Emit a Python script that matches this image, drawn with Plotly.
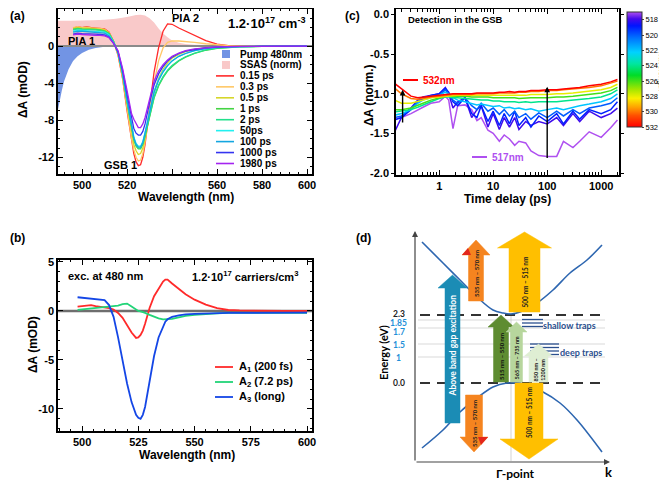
import math
import plotly.graph_objects as go
from plotly.colors import sample_colorscale

# the page body adds an 8px margin, so the figure is drawn 8px smaller and every
# reference pixel position is shifted by that offset
OFF = 8
FW, FH = 667 - OFF, 482 - OFF
FONT = "Liberation Sans"


def fx(px):
    return min(1.0, max(0.0, (px - OFF) / FW))


def fy(py):
    return min(1.0, max(0.0, 1 - (py - OFF) / FH))


# ---------------- (a) transient spectra ----------------
wl_a = [496, 498, 500, 502, 504, 506, 508, 510, 512, 514, 516, 518, 520, 522, 523, 524, 525, 526,
        527, 528, 530, 532, 534, 536, 538, 540, 543, 546, 550, 555, 560, 565, 570, 580, 590, 600]
spec_015 = [1.9, 2.1, 2.0, 2.1, 2.0, 1.95, 1.9, 1.85, 1.5, 0.5, -1.0, -3.5, -7.0, -10.3, -11.6, -12.5, -12.9, -12.8,
            -12.0, -10.6, -6.5, -2.8, -0.2, 1.6, 2.4, 2.35, 1.95, 1.6, 1.15, 0.6, 0.2, 0.05, 0.02, 0.0, 0.0, 0.0]
spec_03 = [2.0, 2.1, 2.0, 2.05, 1.95, 1.95, 1.9, 1.8, 1.45, 0.5, -0.9, -3.4, -6.8, -10.0, -11.2, -12.0, -12.4, -12.3,
           -11.6, -10.3, -7.0, -4.0, -1.6, -0.2, 0.4, 0.55, 0.55, 0.5, 0.4, 0.25, 0.12, 0.05, 0.02, 0.0, 0.0, 0.0]
spec_05 = [1.9, 2.0, 1.95, 1.95, 1.9, 1.85, 1.8, 1.75, 1.4, 0.5, -0.8, -3.2, -6.4, -9.5, -10.6, -11.3, -11.7, -11.6,
           -11.0, -10.0, -7.3, -5.0, -3.5, -2.5, -1.8, -1.3, -0.9, -0.6, -0.35, -0.18, -0.1, -0.06, -0.04, -0.02, -0.01, -0.01]
spec_1 = [1.8, 1.9, 1.85, 1.85, 1.8, 1.8, 1.75, 1.65, 1.35, 0.5, -0.7, -3.0, -6.0, -9.0, -10.1, -10.8, -11.1, -11.1,
          -10.6, -9.7, -7.5, -5.6, -4.3, -3.4, -2.7, -2.2, -1.6, -1.2, -0.8, -0.45, -0.25, -0.14, -0.08, -0.04, -0.03, -0.02]
spec_2 = [1.75, 1.85, 1.8, 1.8, 1.75, 1.75, 1.7, 1.6, 1.3, 0.45, -0.7, -3.0, -6.0, -8.9, -10.0, -10.7, -11.0, -11.0,
          -10.5, -9.6, -7.4, -5.5, -4.2, -3.3, -2.6, -2.1, -1.55, -1.15, -0.75, -0.42, -0.23, -0.13, -0.07, -0.04, -0.03, -0.02]
spec_50 = [1.6, 1.7, 1.7, 1.65, 1.6, 1.6, 1.55, 1.5, 1.2, 0.4, -0.7, -2.9, -5.8, -8.7, -9.8, -10.5, -10.8, -10.8,
           -10.3, -9.3, -6.9, -4.9, -3.6, -2.7, -2.1, -1.6, -1.1, -0.8, -0.5, -0.28, -0.15, -0.09, -0.05, -0.03, -0.02, -0.02]
spec_100 = [1.5, 1.6, 1.6, 1.55, 1.5, 1.5, 1.45, 1.4, 1.1, 0.35, -0.7, -2.9, -5.8, -8.8, -9.9, -10.6, -10.9, -10.9,
            -10.4, -9.4, -7.0, -5.0, -3.7, -2.8, -2.1, -1.6, -1.1, -0.8, -0.5, -0.28, -0.15, -0.09, -0.05, -0.03, -0.02, -0.02]
spec_1000 = [1.3, 1.4, 1.35, 1.35, 1.3, 1.3, 1.25, 1.2, 0.95, 0.3, -0.6, -2.6, -5.2, -7.9, -8.9, -9.4, -9.6, -9.6,
             -9.2, -8.4, -6.1, -4.2, -3.0, -2.2, -1.6, -1.2, -0.8, -0.55, -0.35, -0.18, -0.1, -0.06, -0.04, -0.02, -0.01, -0.01]
spec_1980 = [1.2, 1.3, 1.25, 1.2, 1.2, 1.15, 1.15, 1.1, 0.9, 0.3, -0.5, -2.4, -4.8, -7.3, -7.9, -8.3, -8.8, -8.8,
             -8.4, -7.7, -5.6, -3.8, -2.7, -2.0, -1.5, -1.1, -0.75, -0.5, -0.3, -0.15, -0.08, -0.05, -0.03, -0.02, -0.01, -0.01]
spectra_a = [spec_015, spec_03, spec_05, spec_1, spec_2, spec_50, spec_100, spec_1000, spec_1980]
labels_a = ["0.15 ps", "0.3 ps", "0.5 ps", "1 ps", "2 ps", "50ps", "100 ps", "1000 ps", "1980 ps"]
colors_a = ["#ff2a2a", "#ffc866", "#d6d62a", "#44d444", "#22e08c", "#22f0f0", "#14a6e0", "#3434f0", "#a424f0"]

wl_pump = [489, 490, 491, 492, 494, 496, 498, 500, 503, 506, 510, 514]
pump = [-7.2, -6.0, -4.8, -3.8, -2.5, -1.6, -1.1, -0.75, -0.4, -0.2, -0.07, 0.0]
wl_ssas = [489, 495, 500, 505, 510, 515, 518, 521, 524, 526, 528, 530, 532, 534, 536, 538, 540, 543, 546, 550, 560, 580, 602]
ssas = [2.73, 2.74, 2.75, 2.78, 2.85, 2.95, 3.05, 3.2, 3.35, 3.38, 3.3, 3.0, 2.55, 1.9, 1.35, 0.95, 0.6, 0.35, 0.22,
        0.15, 0.12, 0.1, 0.1]
yticks_a = [-12, -8, -4, 0, 4]
xticks_a = [500, 520, 540, 560, 580, 600]

# ---------------- (b) decay-associated spectra ----------------
wl_b = [498, 500, 502, 504, 506, 508, 510, 512, 514, 516, 518, 520, 522, 524, 525, 526, 527, 528,
        530, 532, 534, 536, 537, 538, 540, 543, 546, 550, 555, 560, 565, 570, 580, 590, 600]
das_a1 = [0.45, 0.5, 0.55, 0.6, 0.5, 0.45, 0.4, 0.3, 0.15, -0.2, -0.7, -1.4, -2.2, -2.75, -2.7, -2.45, -2.0, -1.3,
          0.3, 1.5, 2.3, 3.0, 3.2, 3.2, 2.8, 2.2, 1.7, 1.15, 0.65, 0.3, 0.1, 0.05, 0.0, 0.0, 0.0]
das_a2 = [0.1, 0.15, 0.2, 0.25, 0.3, 0.3, 0.35, 0.4, 0.45, 0.55, 0.7, 0.75, 0.45, 0.1, 0.0, -0.05, -0.1, -0.2,
          -0.4, -0.6, -0.75, -0.85, -0.85, -0.85, -0.8, -0.65, -0.5, -0.4, -0.3, -0.25, -0.2, -0.2, -0.2, -0.2, -0.2]
das_a3 = [1.4, 1.35, 1.35, 1.3, 1.25, 1.2, 1.1, 0.6, -0.6, -2.7, -5.0, -7.4, -9.3, -10.6, -10.9, -11.0, -10.6, -9.8,
          -7.2, -4.6, -2.7, -1.5, -1.1, -0.85, -0.6, -0.45, -0.35, -0.3, -0.25, -0.22, -0.2, -0.2, -0.18, -0.18, -0.18]
das_labels = ["A<sub>1</sub> (200 fs)", "A<sub>2</sub> (7.2 ps)", "A<sub>3</sub> (long)"]
das_colors = ["#ff2a2a", "#22d478", "#1446e6"]
yticks_b = [-10, -5, 0, 5]
xticks_b = [500, 525, 550, 575, 600]

# ---------------- (c) kinetics in the GSB ----------------
t_c = [0.15, 0.2, 0.3, 0.4, 0.5, 0.7, 1.0, 1.3, 1.5, 1.8, 2.2, 3, 4, 5, 6, 8, 10, 13, 16, 20, 25, 30, 40, 50,
       70, 100, 150, 200, 300, 400, 600, 1000, 1500, 2000]
kin_517 = [-1.32, -1.3, -1.25, -1.2, -1.17, -1.12, -1.1, -1.03, -1.08, -1.44, -1.15, -1.14, -1.2, -1.34, -1.3, -1.46,
           -1.5, -1.6, -1.52, -1.57, -1.65, -1.6, -1.62, -1.72, -1.78, -1.79, -1.79, -1.6, -1.68, -1.6, -1.48, -1.55,
           -1.43, -1.33]
kin_518 = [-1.48, -1.3, -1.18, -1.08, -1.04, -1.02, -1.0, -0.92, -1.0, -1.18, -1.1, -1.05, -1.3, -1.2, -1.15, -1.42,
           -1.25, -1.45, -1.3, -1.42, -1.3, -1.45, -1.35, -1.4, -1.35, -1.38, -1.3, -1.4, -1.25, -1.35, -1.22, -1.3,
           -1.25, -1.18]
kin_519 = [-1.33, -1.3, -1.2, -1.1, -1.06, -1.02, -1.0, -0.93, -0.98, -1.1, -1.15, -1.05, -1.25, -1.3, -1.15, -1.35,
           -1.22, -1.4, -1.25, -1.38, -1.22, -1.4, -1.3, -1.42, -1.28, -1.35, -1.25, -1.38, -1.22, -1.32, -1.2, -1.25,
           -1.2, -1.1]
kin_520 = [-1.3, -1.28, -1.18, -1.1, -1.05, -1.03, -1.02, -0.95, -1.0, -1.08, -1.12, -1.05, -1.15, -1.2, -1.12, -1.22,
           -1.18, -1.26, -1.2, -1.28, -1.22, -1.3, -1.25, -1.32, -1.24, -1.3, -1.22, -1.28, -1.2, -1.25, -1.18, -1.15,
           -1.12, -1.05]
kin_522 = [-1.27, -1.25, -1.2, -1.12, -1.08, -1.05, -1.02, -0.98, -1.0, -1.05, -1.08, -1.1, -1.12, -1.14, -1.13, -1.15,
           -1.16, -1.15, -1.18, -1.17, -1.19, -1.18, -1.2, -1.19, -1.22, -1.2, -1.18, -1.2, -1.17, -1.15, -1.13, -1.1,
           -1.06, -1.0]
kin_524 = [-1.23, -1.22, -1.2, -1.17, -1.14, -1.1, -1.06, -1.04, -1.04, -1.05, -1.05, -1.06, -1.07, -1.07, -1.08, -1.08,
           -1.09, -1.09, -1.1, -1.1, -1.1, -1.11, -1.1, -1.11, -1.1, -1.1, -1.1, -1.09, -1.08, -1.07, -1.06, -1.04,
           -1.0, -0.95]
kin_526 = [-1.2, -1.2, -1.18, -1.15, -1.12, -1.08, -1.05, -1.03, -1.03, -1.03, -1.03, -1.03, -1.04, -1.04, -1.04, -1.04,
           -1.05, -1.05, -1.05, -1.05, -1.05, -1.06, -1.05, -1.05, -1.05, -1.05, -1.04, -1.04, -1.03, -1.02, -1.01, -0.99,
           -0.96, -0.92]
kin_528 = [-1.08, -1.12, -1.12, -1.1, -1.08, -1.05, -1.04, -1.03, -1.03, -1.02, -1.02, -1.02, -1.02, -1.02, -1.02, -1.02,
           -1.02, -1.02, -1.02, -1.02, -1.02, -1.02, -1.02, -1.01, -1.01, -1.01, -1.0, -1.0, -0.99, -0.98, -0.97, -0.95,
           -0.92, -0.88]
kin_530 = [-0.93, -1.0, -1.06, -1.07, -1.06, -1.04, -1.03, -1.02, -1.02, -1.01, -1.01, -1.01, -1.01, -1.0, -1.0, -1.0,
           -1.0, -0.99, -0.99, -0.99, -0.99, -0.98, -0.98, -0.97, -0.97, -0.96, -0.96, -0.95, -0.94, -0.93, -0.92, -0.9,
           -0.87, -0.84]
kin_532 = [-0.87, -0.94, -1.03, -1.05, -1.04, -1.03, -1.02, -1.01, -1.01, -1.0, -1.0, -1.0, -1.0, -0.99, -0.99, -0.99,
           -0.99, -0.98, -0.98, -0.97, -0.98, -0.97, -0.97, -0.96, -0.96, -0.95, -0.95, -0.94, -0.93, -0.92, -0.9, -0.88,
           -0.85, -0.82]
kin_wl = [517, 518, 519, 520, 522, 524, 526, 528, 530, 532]
kin_all = [kin_517, kin_518, kin_519, kin_520, kin_522, kin_524, kin_526, kin_528, kin_530, kin_532]
cbar_ticks = [518, 520, 522, 524, 526, 528, 530, 532]
yticks_c = [-2.0, -1.5, -1.0, -0.5, 0.0]
WL_MIN, WL_MAX = 517, 532

# rainbow, 0 = 532 nm (bottom of bar), 1 = 517 nm (top)
rainbow = [[0.0, "rgb(255,0,0)"], [0.1, "rgb(255,80,0)"], [0.17, "rgb(255,160,0)"], [0.25, "rgb(250,240,0)"],
           [0.33, "rgb(160,230,0)"], [0.45, "rgb(0,220,40)"], [0.55, "rgb(0,230,160)"], [0.65, "rgb(0,210,255)"],
           [0.78, "rgb(0,110,255)"], [0.88, "rgb(0,20,255)"], [0.94, "rgb(70,10,235)"], [1.0, "rgb(175,80,240)"]]

# ---------------- (d) band diagram (schematic units) ----------------
cb_k = [422, 443, 460, 477, 493, 503, 511, 520, 537, 553, 570, 587, 602]
cb_e = [242, 263, 280, 297, 310, 313, 314, 312, 303, 290, 273, 260, 245]
vb_k = [422, 443, 460, 477, 493, 507, 511, 520, 543, 560, 577, 602]
vb_e = [448, 430, 412, 398, 387, 383, 383, 383, 392, 403, 420, 452]
level_labels = ["2.3", "1.85", "1.7", "1.5", "1", "0.0"]
level_pos = [314, 323, 332, 345, 358, 383]
level_colors = ["#222", "#1e90d8", "#1e90d8", "#1e90d8", "#1e90d8", "#222"]
# centre, body width, head width, tail, head base, tip, colour, label, label pos, size
arrows_d = [
    (452.5, 15, 29, 423, 288, 275, "#1b8cb5", "Above band gap excitation", 345, 8.5, "white"),
    (476, 15, 28, 301, 255, 240, "#f5841f", "535 nm – 570 nm", 273, 6, "#222"),
    (524.5, 31, 54, 312, 248, 232, "#ffbf00", "500 nm – 515 nm", 282, 6.5, "#222"),
    (501, 15, 26, 382, 327, 315, "#5e8c31", "515 nm – 550 nm", 356, 6, "#111"),
    (516.5, 12, 21, 382, 332, 322, "#b7d69d", "565 nm – 735 nm", 358, 5.5, "#222"),
    (538.5, 19, 28, 382, 356, 344, "#dfeed3", "850 nm –<br>1200 nm", 370, 5.5, "#222"),
    (474, 17, 28, 395, 437, 452, "#f5841f", "535 nm – 570 nm", 423, 6, "#222"),
    (529, 28, 58, 383, 439, 459, "#ffbf00", "500 nm – 515 nm", 413, 6.5, "#222"),
]

fig = go.Figure()

# (a)
fig.add_trace(go.Scatter(x=wl_ssas, y=ssas, mode="none", fill="tozeroy", fillcolor="#f9c9c9",
                         xaxis="x", yaxis="y", showlegend=False))
fig.add_trace(go.Scatter(x=wl_pump, y=pump, mode="none", fill="tozeroy", fillcolor="#7294e4",
                         xaxis="x", yaxis="y", showlegend=False))
xr_a = [489.3, 602.2]
fig.add_trace(go.Scatter(x=xr_a, y=[0, 0], mode="lines", line=dict(color="#8a8a8a", width=2),
                         xaxis="x", yaxis="y", showlegend=False))
for vals, c in zip(spectra_a, colors_a):
    fig.add_trace(go.Scatter(x=wl_a, y=vals, mode="lines", line=dict(color=c, width=1.3),
                             xaxis="x", yaxis="y", showlegend=False))

# (b)
xr_b = [489.3, 602.2]
fig.add_trace(go.Scatter(x=xr_b, y=[0, 0], mode="lines", line=dict(color="#6e6e6e", width=2.5),
                         xaxis="x3", yaxis="y3", showlegend=False))
for vals, c in zip([das_a1, das_a2, das_a3], das_colors):
    fig.add_trace(go.Scatter(x=wl_b, y=vals, mode="lines", line=dict(color=c, width=1.8),
                             xaxis="x3", yaxis="y3", showlegend=False))

# (c)
for wl, vals in zip(kin_wl, kin_all):
    col = sample_colorscale(rainbow, [(WL_MAX - wl) / (WL_MAX - WL_MIN)])[0]
    fig.add_trace(go.Scatter(x=t_c, y=vals, mode="lines", line=dict(color=col, width=1.5),
                             xaxis="x2", yaxis="y2", showlegend=False))
fig.add_trace(go.Scatter(
    x=[1, 1], y=[-1, -1], mode="markers", xaxis="x2", yaxis="y2", showlegend=False, hoverinfo="skip",
    marker=dict(size=0.1, color=[-WL_MAX, -WL_MIN], colorscale=rainbow, cmin=-WL_MAX, cmax=-WL_MIN,
                showscale=True,
                colorbar=dict(x=fx(627), xanchor="left", xpad=0, ypad=0, y=fy(69.5), yanchor="middle",
                              len=115 / FH, lenmode="fraction", thickness=15, thicknessmode="pixels",
                              outlinewidth=1, outlinecolor="#333",
                              tickvals=[-v for v in cbar_ticks], ticktext=[str(v) for v in cbar_ticks],
                              ticks="outside", ticklen=2, tickfont=dict(size=7.5, family=FONT, weight="normal")))))

shapes = []
ann = []


def label(px, py, s, size=11, color="black", anchor="center", angle=0, weight="bold", family=FONT):
    ann.append(dict(x=fx(px), y=fy(py), xref="paper", yref="paper", text=s, showarrow=False,
                    xanchor=anchor, yanchor="middle", textangle=angle,
                    font=dict(size=size, color=color, family=family, weight=weight)))


label(661, 70, "wavelength", 8, angle=90, weight="normal")

# (d) bands
for kk, ee in [(cb_k, cb_e), (vb_k, vb_e)]:
    fig.add_trace(go.Scatter(x=kk, y=ee, mode="lines", line=dict(color="#2d66b0", width=1.6, shape="spline"),
                             xaxis="x4", yaxis="y4", showlegend=False))

# panel letters
label(8, 16, "(a)", 12, anchor="left")
label(352, 16, "(c)", 12)
label(8, 238, "(b)", 12, anchor="left")
label(363, 238, "(d)", 12)

# axis titles
label(23, 90, "ΔA (mOD)", 12, angle=-90)
label(186, 197, "Wavelength (nm)", 12)
label(33, 345, "ΔA (mOD)", 12, angle=-90)
label(187, 455, "Wavelength (nm)", 12)
label(369, 95, "ΔA (norm.)", 12, angle=-90)
label(507, 199, "Time delay (ps)", 12)

# (a) annotations
for s, x, y in [("PIA 1", 499.6, 0.55), ("PIA 2", 545.8, 3.0), ("GSB 1", 516.9, -12.8)]:
    ann.append(dict(x=x, y=y, xref="x", yref="y", text=s, showarrow=False,
                    font=dict(size=11, family=FONT, weight="bold")))
label(267, 23, "1.2·10<sup>17</sup> cm<sup>-3</sup>", 13)

# (a) legend
leg_rows = [54 + 10.95 * i for i in range(11)]
shapes.append(dict(type="rect", xref="paper", yref="paper", x0=fx(222), x1=fx(230), y0=fy(leg_rows[0] - 4),
                   y1=fy(leg_rows[0] + 4), fillcolor="#7294e4", line=dict(width=0)))
shapes.append(dict(type="rect", xref="paper", yref="paper", x0=fx(222), x1=fx(230), y0=fy(leg_rows[1] - 4),
                   y1=fy(leg_rows[1] + 4), fillcolor="#f9c9c9", line=dict(width=0)))
label(238, leg_rows[0], "Pump 480nm", 10, anchor="left")
label(238, leg_rows[1], "SSAS (norm)", 10, anchor="left")
for i, (s, c) in enumerate(zip(labels_a, colors_a)):
    yy = leg_rows[i + 2]
    shapes.append(dict(type="line", xref="paper", yref="paper", x0=fx(216), x1=fx(234), y0=fy(yy), y1=fy(yy),
                       line=dict(color=c, width=1.6)))
    label(238, yy, s, 10, anchor="left")

# (b) annotations + legend
label(105, 276, "exc. at 480 nm", 11)
label(245, 276, "1.2·10<sup>17</sup> carriers/cm<sup>3</sup>", 11)
for i, (s, c) in enumerate(zip(das_labels, das_colors)):
    yy = 367 + 15 * i
    shapes.append(dict(type="line", xref="paper", yref="paper", x0=fx(215), x1=fx(233), y0=fy(yy), y1=fy(yy),
                       line=dict(color=c, width=1.8)))
    label(237, yy, s, 11, anchor="left")

# (c) annotations
label(406, 19, "Detection in the GSB", 9.5, anchor="left")
kin_key = [("532nm", kin_wl[-1], 403, 80), ("517nm", kin_wl[0], 472, 157)]
for s, wl, x0, yy in kin_key:
    col = sample_colorscale(rainbow, [(WL_MAX - wl) / (WL_MAX - WL_MIN)])[0]
    shapes.append(dict(type="line", xref="paper", yref="paper", x0=fx(x0), x1=fx(x0 + 15), y0=fy(yy), y1=fy(yy),
                       line=dict(color=col, width=2)))
    label(x0 + 18, yy, s, 10, color=col, anchor="left")
for t_arrow, y_tail, y_head in [(0.21, -1.38, -0.95), (100, -1.83, -0.91)]:
    ann.append(dict(x=math.log10(t_arrow), y=y_head, ax=math.log10(t_arrow), ay=y_tail, xref="x2", yref="y2",
                    axref="x2", ayref="y2", text="", showarrow=True, arrowhead=2, arrowsize=0.8,
                    arrowwidth=1.4, arrowcolor="black"))

# (d) diagram
DF = "Lato"
for yy in [320, 328, 344, 357]:
    shapes.append(dict(type="line", xref="x4", yref="y4", x0=418, x1=605, y0=yy, y1=yy,
                       line=dict(color="#cfcfcf", width=0.8), layer="below"))
shapes.append(dict(type="line", xref="x4", yref="y4", x0=511, x1=511, y0=313, y1=461,
                   line=dict(color="#c8c8c8", width=0.8), layer="below"))
for yy in [315, 383]:
    shapes.append(dict(type="line", xref="x4", yref="y4", x0=420, x1=600, y0=yy, y1=yy,
                       line=dict(color="#333", width=1.8, dash="10px,7px"), layer="below"))
for yy in [319.5, 323, 326.5]:
    shapes.append(dict(type="line", xref="x4", yref="y4", x0=522, x1=543, y0=yy, y1=yy,
                       line=dict(color="#2b4f8e", width=1.3)))
for yy in [344, 347.5, 351, 354.5]:
    shapes.append(dict(type="line", xref="x4", yref="y4", x0=530, x1=559, y0=yy, y1=yy,
                       line=dict(color="#2b4f8e", width=1.3)))

for xc, bw, hw, yt, yb, ytip, col, s, ty, fs, tc in arrows_d:
    path = (f"M {xc - bw / 2},{yt} L {xc - bw / 2},{yb} L {xc - hw / 2},{yb} L {xc},{ytip} "
            f"L {xc + hw / 2},{yb} L {xc + bw / 2},{yb} L {xc + bw / 2},{yt} Z")
    shapes.append(dict(type="path", xref="x4", yref="y4", path=path, fillcolor=col,
                       line=dict(color=col, width=0.5)))
    ann.append(dict(x=xc, y=ty, xref="x4", yref="y4", text=s, showarrow=False, textangle=-90,
                    font=dict(size=fs, color=tc, family=DF, weight="bold")))
# red tips on the orange arrows
shapes.append(dict(type="path", xref="x4", yref="y4", path="M 462,255 L 468,248 L 471,255 Z",
                   fillcolor="#e3261b", line=dict(width=0)))
shapes.append(dict(type="path", xref="x4", yref="y4", path="M 488,437 L 481,445 L 478,437 Z",
                   fillcolor="#e3261b", line=dict(width=0)))

for s, yy, c in zip(level_labels, level_pos, level_colors):
    ann.append(dict(x=399, y=yy, xref="x4", yref="y4", text=s, showarrow=False,
                    font=dict(size=8.5, color=c, family=DF, weight="bold")))
ann.append(dict(x=569, y=325, xref="x4", yref="y4", text="shallow traps", showarrow=False,
                font=dict(size=9, color="#2b4f8e", family=DF, weight="bold")))
ann.append(dict(x=581, y=352, xref="x4", yref="y4", text="deep traps", showarrow=False,
                font=dict(size=9, color="#2b4f8e", family=DF, weight="bold")))
ann.append(dict(x=383, y=352, xref="x4", yref="y4", text="Energy (eV)", showarrow=False, textangle=-90,
                font=dict(size=11, family=DF, weight="bold")))
ann.append(dict(x=516, y=473, xref="x4", yref="y4", text="Γ-point", showarrow=False,
                font=dict(size=12, family=DF, weight="bold")))
ann.append(dict(x=608, y=472, xref="x4", yref="y4", text="k", showarrow=False,
                font=dict(size=13, family=DF, weight="bold")))
ann.append(dict(x=415, y=231, ax=415, ay=462, xref="x4", yref="y4", axref="x4", ayref="y4", text="",
                showarrow=True, arrowhead=2, arrowsize=1, arrowwidth=1.2, arrowcolor="#444"))
ann.append(dict(x=610, y=462, ax=415, ay=462, xref="x4", yref="y4", axref="x4", ayref="y4", text="",
                showarrow=True, arrowhead=2, arrowsize=1, arrowwidth=1.2, arrowcolor="#444"))

tickfont = dict(size=11, family=FONT, color="black", weight="bold")
box = dict(showline=True, linecolor="black", linewidth=1.5, mirror="allticks", zeroline=False,
           showgrid=False, tickfont=tickfont, tickcolor="black")

fig.update_layout(
    width=FW, height=FH, margin=dict(l=0, r=0, t=0, b=0, autoexpand=False),
    paper_bgcolor="white", plot_bgcolor="white",
    font=dict(family=FONT, color="black"),
    xaxis=dict(domain=[fx(58), fx(312)], range=xr_a, anchor="y", tickvals=xticks_a,
               ticktext=[str(v) if v != 540 else "" for v in xticks_a],
               ticks="inside", ticklen=5, minor=dict(ticks="inside", ticklen=2.5, dtick=4, tickcolor="black"),
               **box),
    yaxis=dict(domain=[fy(174), fy(9)], range=[-13.8, 4.0], anchor="x", tickvals=yticks_a,
               ticktext=[str(v) for v in yticks_a],
               ticks="inside", ticklen=5, minor=dict(ticks="inside", ticklen=2.5, dtick=1, tickcolor="black"),
               **box),
    xaxis3=dict(domain=[fx(58), fx(312)], range=xr_b, anchor="y3", tickvals=xticks_b,
                ticks="inside", ticklen=5, minor=dict(ticks="inside", ticklen=2.5, dtick=5, tickcolor="black"),
                **box),
    yaxis3=dict(domain=[fy(431), fy(260)], range=[-12.25, 5.2], anchor="x3", tickvals=yticks_b,
                ticktext=[str(v) for v in yticks_b],
                ticks="inside", ticklen=5, minor=dict(ticks="inside", ticklen=2.5, dtick=1, tickcolor="black"),
                **box),
    xaxis2=dict(domain=[fx(396), fx(619)], type="log", range=[-0.8, 3.33], anchor="y2",
                tickvals=[1, 10, 100, 1000], ticktext=["1", "10", "100", "1000"], ticks="inside", ticklen=5,
                minor=dict(ticks="inside", ticklen=3, tickcolor="black",
                           tickvals=[m * 10 ** e for e in range(-1, 4) for m in range(2, 10)]),
                **box),
    yaxis2=dict(domain=[fy(175), fy(9)], range=[-2.025, 0.07], anchor="x2",
                tickvals=yticks_c, ticktext=[f"{v:.1f}" for v in yticks_c], ticks="outside", ticklen=3,
                **box),
    xaxis4=dict(domain=[fx(370), fx(667)], range=[370, 667], anchor="y4", visible=False),
    yaxis4=dict(domain=[fy(482), fy(225)], range=[482, 225], anchor="x4", visible=False),
    shapes=shapes,
    annotations=ann,
)

fig.write_html("out.html")
